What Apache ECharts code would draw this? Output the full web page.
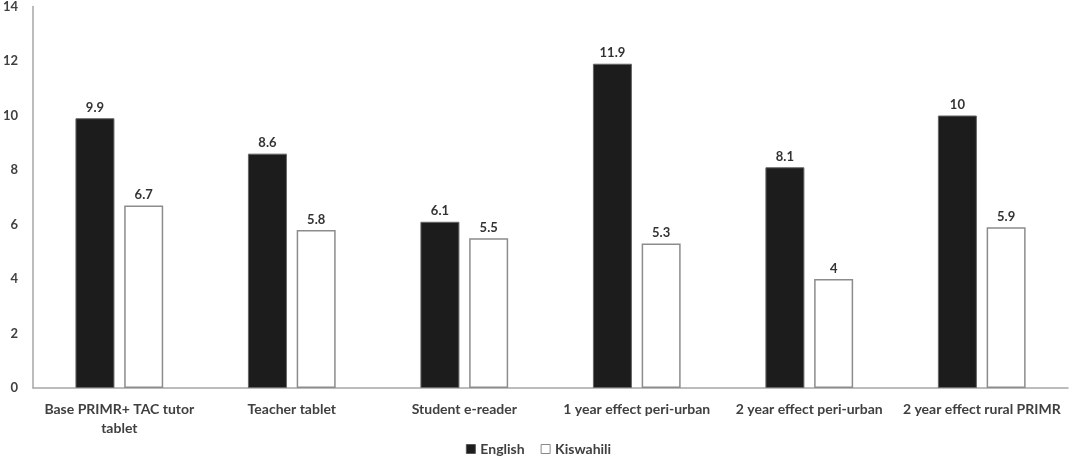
<!DOCTYPE html>
<html><head><meta charset="utf-8">
<script src="https://cdn.jsdelivr.net/npm/echarts@6/dist/echarts.min.js"></script>
<style>html,body{margin:0;padding:0;background:#fff}#c{width:1077px;height:462px}</style>
</head><body><div id="c"></div>
<script>
const categories = ["Base PRIMR+ TAC tutor\ntablet", "Teacher tablet", "Student e-reader", "1 year effect peri-urban", "2 year effect peri-urban", "2 year effect rural PRIMR"];
const english = [9.9, 8.6, 6.1, 11.9, 8.1, 10];
const kiswahili = [6.7, 5.8, 5.5, 5.3, 4, 5.9];
const yTicks = {min: 0, max: 14, interval: 2};

const font = 'Lato, "Open Sans", sans-serif';
const chart = echarts.init(document.getElementById('c'));
chart.setOption({
  animation: false,
  grid: {left: 33, right: 9, top: 3, bottom: 74, containLabel: false},
  legend: {
    bottom: 1, left: 'center', itemWidth: 9, itemHeight: 9, itemGap: 16,
    icon: 'rect',
    textStyle: {fontFamily: font, fontWeight: 'bold', fontSize: 14, color: '#404040'},
    data: [
      {name: 'English', itemStyle: {color: '#1c1c1c', borderColor: '#555', borderWidth: 1}},
      {name: 'Kiswahili', itemStyle: {color: '#fff', borderColor: '#888', borderWidth: 1}}
    ]
  },
  xAxis: {
    type: 'category', data: categories,
    axisLine: {lineStyle: {color: '#a6a6a6', width: 1.5}},
    axisTick: {show: false},
    axisLabel: {interval: 0, margin: 12, fontFamily: font, fontWeight: 'bold', fontSize: 14, color: '#404040', lineHeight: 19}
  },
  yAxis: {
    type: 'value', min: yTicks.min, max: yTicks.max, interval: yTicks.interval,
    splitLine: {show: false},
    axisLine: {show: true, lineStyle: {color: '#a6a6a6', width: 1.5}},
    axisTick: {show: false},
    axisLabel: {margin: 15, fontFamily: font, fontWeight: 'bold', fontSize: 13, color: '#404040'}
  },
  series: [
    {name: 'English', type: 'bar', data: english, barWidth: 39, barGap: '25%',
     itemStyle: {color: '#1c1c1c', borderColor: '#666', borderWidth: 1},
     label: {show: true, position: 'top', distance: 4, fontFamily: font, fontWeight: 'bold', fontSize: 13, color: '#333'}},
    {name: 'Kiswahili', type: 'bar', data: kiswahili, barWidth: 39,
     itemStyle: {color: '#fff', borderColor: '#8c8c8c', borderWidth: 1.5},
     label: {show: true, position: 'top', distance: 4, fontFamily: font, fontWeight: 'bold', fontSize: 13, color: '#333'}}
  ]
});
</script></body></html>
